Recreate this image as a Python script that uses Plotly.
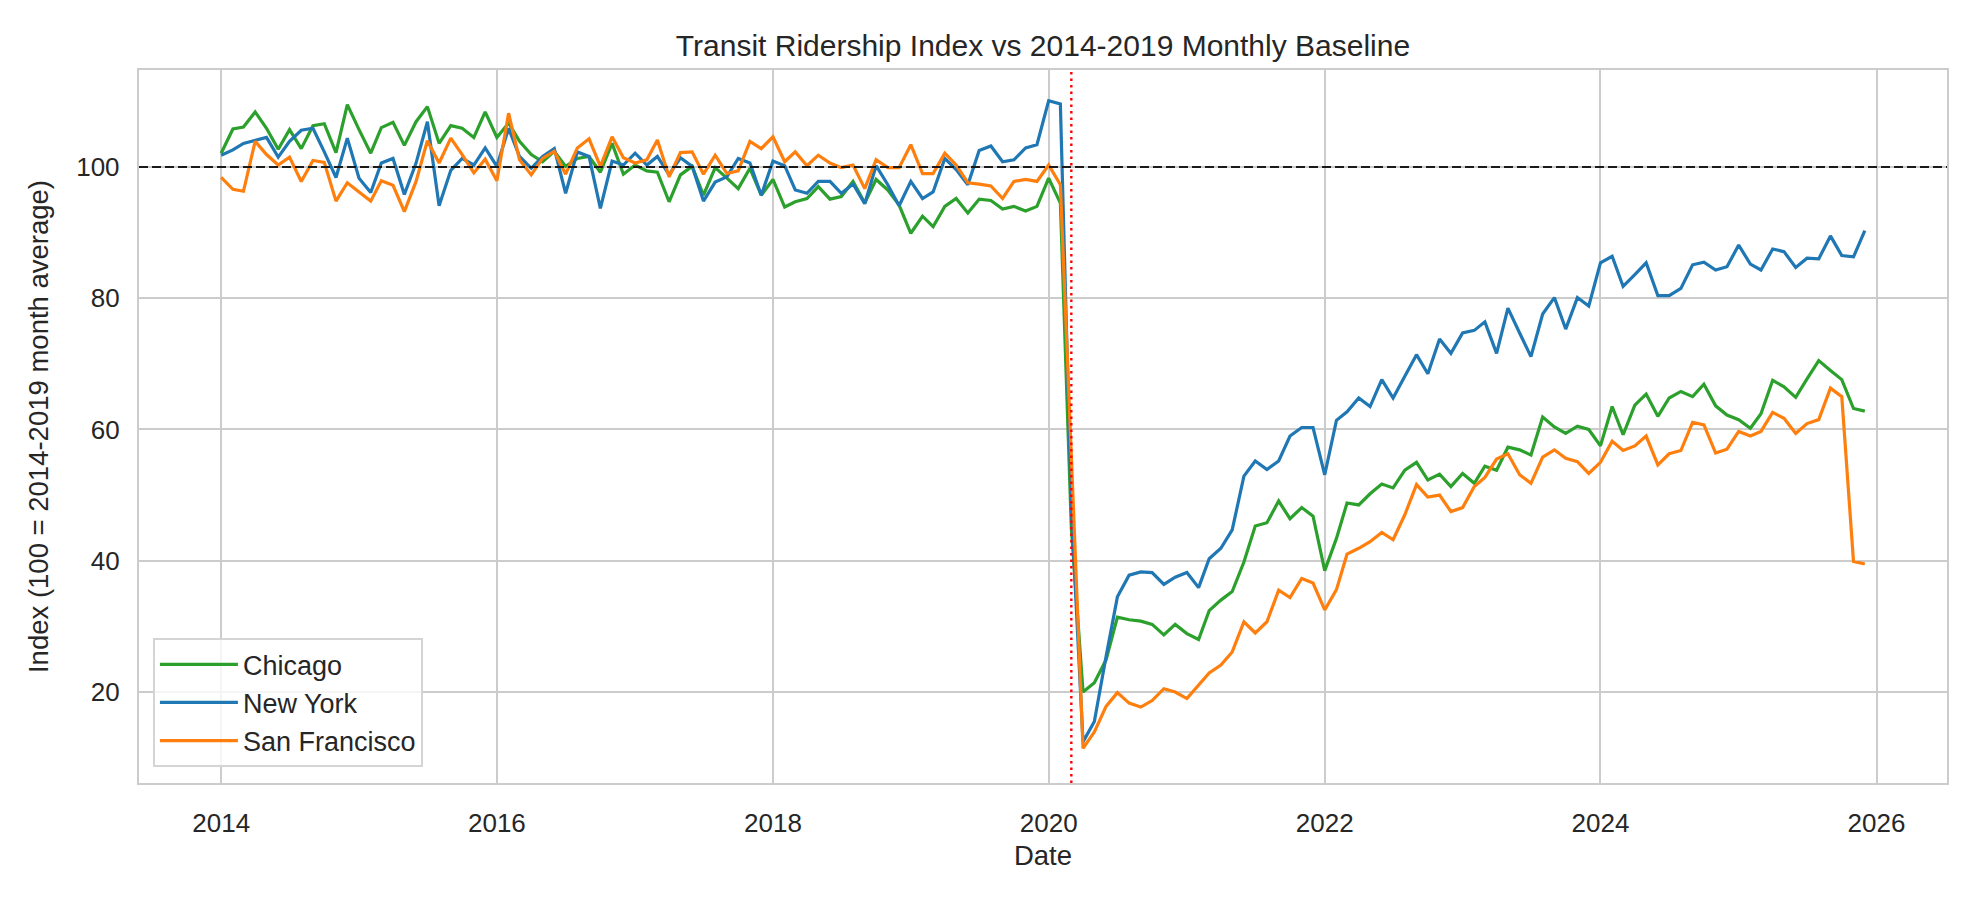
import pandas as pd
import plotly.graph_objects as go

# ---------------- data ----------------
dates = pd.date_range("2014-01-01", periods=144, freq="MS")

chicago = [
    102.1, 105.8, 106.1, 108.4, 105.9, 102.7, 105.7, 102.8, 106.3, 106.6, 102.2, 109.5,
    105.7, 102.1, 106.0, 106.8, 103.3, 106.9, 109.2, 103.6, 106.3, 105.9, 104.5, 108.4,
    104.5, 106.7, 103.9, 101.9, 100.8, 102.4, 100.1, 101.3, 101.6, 99.2, 103.6, 98.9,
    100.3, 99.4, 99.2, 94.7, 98.8, 100.1, 95.7, 99.9, 98.3, 96.7, 99.8, 95.7,
    98.1, 93.9, 94.7, 95.2, 97.0, 95.1, 95.5, 97.8, 94.5, 98.1, 96.5, 94.2,
    89.9, 92.5, 90.9, 94.0, 95.2, 93.0, 95.1, 94.9, 93.6, 94.0, 93.3, 94.0,
    98.3, 94.5, 45.0, 20.0, 21.4, 24.9, 31.4, 31.0, 30.8, 30.3, 28.7, 30.3,
    28.9, 28.0, 32.4, 34.0, 35.3, 39.8, 45.3, 45.8, 49.1, 46.4, 48.1, 46.8,
    38.5, 43.4, 48.8, 48.5, 50.2, 51.7, 51.1, 53.8, 55.0, 52.3, 53.2, 51.3,
    53.3, 51.8, 54.4, 53.8, 57.3, 56.9, 56.1, 61.9, 60.4, 59.4, 60.5, 60.0,
    57.5, 63.5, 59.2, 63.7, 65.4, 62.0, 64.8, 65.8, 65.0, 66.9, 63.6, 62.2,
    61.5, 60.2, 62.4, 67.5, 66.5, 64.9, 67.7, 70.5, 69.0, 67.6, 63.2, 62.8,
]

new_york = [
    101.8, 102.6, 103.6, 104.1, 104.5, 101.5, 103.9, 105.6, 105.9, 102.3, 98.4, 104.4,
    98.3, 96.1, 100.6, 101.3, 95.8, 100.6, 106.9, 94.1, 99.5, 101.3, 100.3, 102.9,
    100.1, 105.9, 101.6, 99.8, 101.6, 102.8, 96.0, 102.3, 101.6, 93.7, 100.9, 100.3,
    102.1, 100.3, 101.6, 98.8, 101.4, 100.1, 94.8, 97.7, 98.5, 101.3, 100.6, 95.7,
    100.9, 100.2, 96.5, 96.0, 97.8, 97.8, 96.0, 97.4, 94.4, 100.2, 97.3, 94.1,
    97.8, 95.2, 96.2, 101.3, 99.6, 97.3, 102.5, 103.2, 100.8, 101.1, 102.9, 103.4,
    110.1, 109.6, 48.0, 12.4, 15.5, 25.4, 34.5, 37.8, 38.3, 38.2, 36.4, 37.5,
    38.2, 35.9, 40.3, 41.9, 44.7, 52.9, 55.2, 53.9, 55.2, 59.0, 60.3, 60.3,
    53.1, 61.4, 62.7, 64.8, 63.5, 67.6, 64.8, 68.1, 71.4, 68.5, 73.8, 71.6,
    74.7, 75.1, 76.4, 71.6, 78.5, 74.7, 71.1, 77.6, 80.1, 75.3, 80.1, 78.8,
    85.4, 86.4, 81.8, 83.6, 85.4, 80.4, 80.4, 81.5, 85.1, 85.5, 84.3, 84.8,
    88.1, 85.2, 84.3, 87.5, 87.1, 84.7, 86.1, 86.0, 89.5, 86.5, 86.3, 90.3,
]

san_francisco = [
    98.4, 96.6, 96.3, 103.9, 101.9, 100.3, 101.5, 97.8, 101.0, 100.7, 94.8, 97.6,
    96.2, 94.8, 97.9, 97.2, 93.2, 97.8, 104.0, 100.6, 104.4, 101.9, 99.1, 101.2,
    97.9, 108.2, 101.1, 98.8, 101.3, 102.4, 98.9, 102.9, 104.3, 100.1, 104.6, 101.4,
    100.6, 101.1, 104.1, 98.5, 102.2, 102.3, 98.9, 101.8, 99.0, 99.4, 103.9, 102.8,
    104.6, 100.8, 102.3, 100.2, 101.8, 100.6, 99.9, 100.3, 96.7, 101.1, 99.9, 99.9,
    103.4, 99.0, 99.0, 102.1, 100.3, 97.6, 97.4, 97.1, 95.2, 97.8, 98.1, 97.8,
    100.3, 97.3, 56.0, 11.4, 13.9, 17.8, 19.9, 18.3, 17.7, 18.7, 20.5, 20.0,
    19.0, 21.0, 22.9, 24.1, 26.1, 30.7, 29.0, 30.7, 35.5, 34.4, 37.3, 36.6,
    32.5, 35.6, 41.0, 41.9, 42.9, 44.3, 43.2, 47.0, 51.6, 49.7, 50.0, 47.5,
    48.1, 51.3, 52.7, 55.5, 56.3, 53.1, 51.8, 55.8, 56.9, 55.6, 55.1, 53.3,
    55.0, 58.2, 56.8, 57.5, 59.0, 54.6, 56.3, 56.8, 61.1, 60.7, 56.4, 57.0,
    59.7, 59.0, 59.7, 62.6, 61.7, 59.4, 60.9, 61.5, 66.3, 65.0, 39.9, 39.5,
]

series_names = ["Chicago", "New York", "San Francisco"]
series_colors = ["#2ca02c", "#1f77b4", "#ff7f0e"]
x_tick_years = [2014, 2016, 2018, 2020, 2022, 2024, 2026]
y_ticks = [20, 40, 60, 80, 100]
baseline = 100
covid_date = "2020-03-01"

# ---------------- figure ----------------
FONT = "Liberation Sans, Arial, Helvetica, sans-serif"
TXT = "#262626"
GRID = "#cccccc"

fig = go.Figure()
for name, vals, col in zip(series_names, [chicago, new_york, san_francisco], series_colors):
    fig.add_trace(go.Scatter(x=dates, y=vals, mode="lines", name=name,
                             line=dict(color=col, width=3.2)))

pad = (dates[-1] - dates[0]) * 0.05
x_range = [dates[0] - pad, dates[-1] + pad]

fig.add_shape(type="line", xref="paper", x0=0, x1=1, yref="y", y0=baseline, y1=baseline,
              line=dict(color="#1a1a1a", width=2.2, dash="9px,4px"), layer="above")
fig.add_shape(type="line", xref="x", x0=covid_date, x1=covid_date, yref="paper", y0=0, y1=1,
              line=dict(color="#ff0000", width=2.4, dash="2.5px,4px"), layer="above")

fig.update_layout(
    width=1980, height=900,
    margin=dict(l=139, r=33, t=70, b=117),
    paper_bgcolor="white", plot_bgcolor="white",
    font=dict(family=FONT, color=TXT, size=26),
    title=dict(text="Transit Ridership Index vs 2014-2019 Monthly Baseline",
               x=0.5, xref="paper", xanchor="center",
               y=1 - 45.5 / 900, yref="container", yanchor="middle",
               font=dict(size=30, color=TXT, family=FONT)),
    showlegend=True,
    legend=dict(x=0.0077, y=0.022, xanchor="left", yanchor="bottom",
                bgcolor="rgba(255,255,255,0.8)", bordercolor="#d5d5d5", borderwidth=2,
                font=dict(size=27, color=TXT, family=FONT), itemwidth=78),
)

fig.update_xaxes(
    range=x_range, type="date",
    tickvals=[pd.Timestamp(f"{y}-01-01") for y in x_tick_years],
    ticktext=[str(y) for y in x_tick_years],
    showgrid=True, gridcolor=GRID, gridwidth=2.4,
    showline=True, linecolor=GRID, linewidth=2.4, mirror=True,
    zeroline=False, ticks="", ticklabelstandoff=16,
    tickfont=dict(size=26, color=TXT),
    title=dict(text="Date", font=dict(size=27.5, color=TXT), standoff=8),
)
fig.update_yaxes(
    range=[6.13, 114.78],
    tickvals=y_ticks, ticktext=[str(v) for v in y_ticks],
    showgrid=True, gridcolor=GRID, gridwidth=2.4,
    showline=True, linecolor=GRID, linewidth=2.4, mirror=True,
    zeroline=False, ticks="", ticklabelstandoff=12,
    tickfont=dict(size=26, color=TXT),
    title=dict(text="Index (100 = 2014-2019 month average)", font=dict(size=27.5, color=TXT), standoff=20),
)

fig.write_html("out.html")
